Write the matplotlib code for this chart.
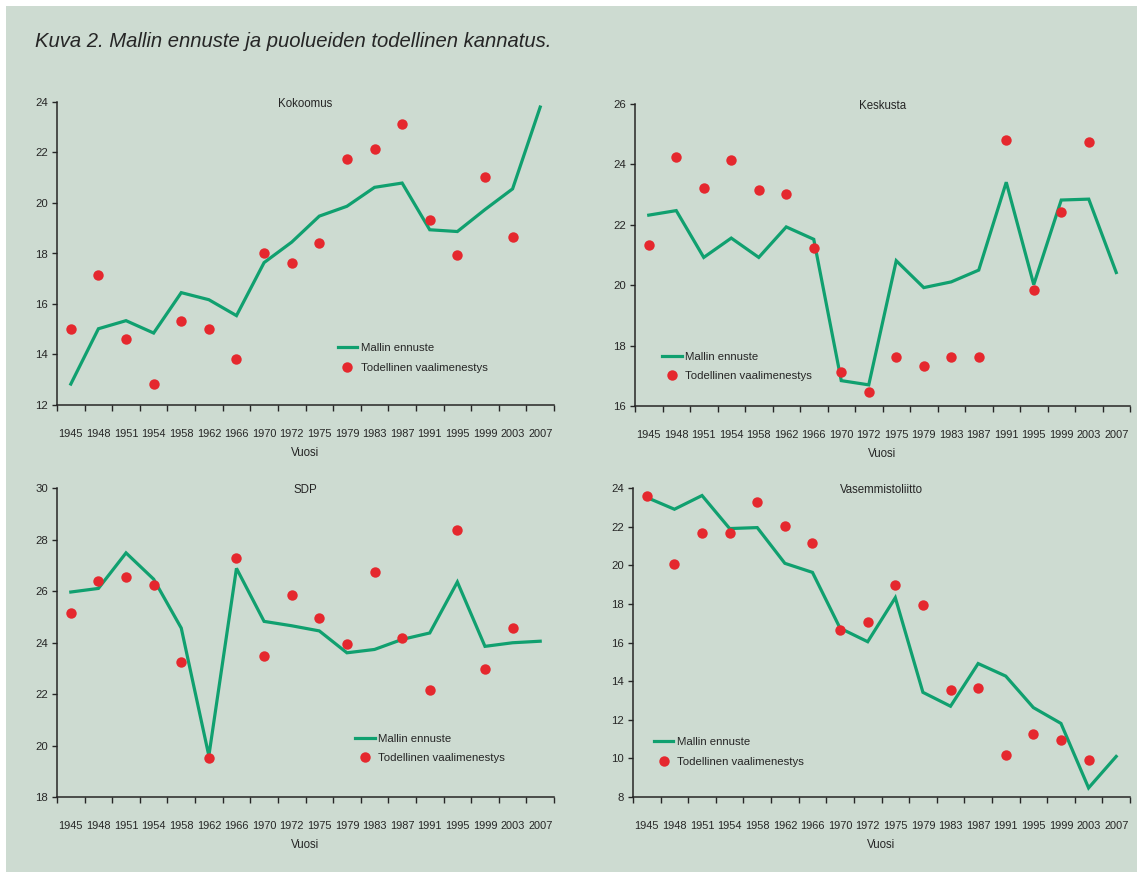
import numpy as np
import matplotlib
matplotlib.use("Agg")
import matplotlib.pyplot as plt
from matplotlib.patches import Rectangle
from matplotlib.lines import Line2D

plt.rcParams['font.family'] = ['Liberation Sans', 'DejaVu Sans']

# vaalivuodet
years = ['1945', '1948', '1951', '1954', '1958', '1962', '1966', '1970', '1972',
         '1975', '1979', '1983', '1987', '1991', '1995', '1999', '2003', '2007']

# Kokoomus
kok_model = [12.83, 15.02, 15.34, 14.85, 16.45, 16.17, 15.54, 17.64, 18.45,
             19.48, 19.87, 20.62, 20.79, 18.94, 18.87, 19.74, 20.56, 23.80]
kok_actual = [15.02, 17.15, 14.62, 12.83, 15.34, 15.02, 13.82, 18.03, 17.64,
              18.41, 21.74, 22.14, 23.12, 19.34, 17.93, 21.04, 18.64]

# Keskusta
kesk_model = [22.32, 22.47, 20.92, 21.56, 20.92, 21.93, 21.52, 16.84, 16.70,
              20.81, 19.92, 20.11, 20.50, 23.41, 20.02, 22.82, 22.85, 20.42]
kesk_actual = [21.34, 24.23, 23.23, 24.14, 23.14, 23.02, 21.22, 17.14, 16.46,
               17.63, 17.34, 17.63, 17.63, 24.82, 19.85, 22.43, 24.73]

# SDP
sdp_model = [25.96, 26.10, 27.48, 26.46, 24.56, 19.60, 26.88, 24.82, 24.65,
             24.45, 23.60, 23.73, 24.12, 24.37, 26.35, 23.85, 23.99, 24.05]
sdp_actual = [25.15, 26.37, 26.56, 26.25, 23.25, 19.52, 27.27, 23.46, 25.86,
              24.94, 23.95, 26.75, 24.16, 22.14, 28.36, 22.96, 24.56]

# Vasemmistoliitto
vas_model = [23.51, 22.90, 23.61, 21.90, 21.95, 20.10, 19.63, 16.74, 16.04,
             18.32, 13.42, 12.70, 14.91, 14.26, 12.63, 11.81, 8.47, 10.10]
vas_actual = [23.56, 20.07, 21.67, 21.67, 23.26, 22.04, 21.15, 16.66, 17.04,
              18.98, 17.95, 13.56, 13.65, 10.17, 11.25, 10.97, 9.94]

BG = '#cddbd1'
GREEN = '#10a06f'
RED = '#e5282e'
INK = '#262626'

W, H = 1137, 872
fig = plt.figure(figsize=(W / 100, H / 100), dpi=100)
fig.patch.set_facecolor('white')
fig.patches.append(Rectangle((6 / W, 0), 1, 1 - 6 / H, transform=fig.transFigure,
                             facecolor=BG, edgecolor='none', zorder=-10))

fig.text(35 / W, 1 - 47 / H, 'Kuva 2. Mallin ennuste ja puolueiden todellinen kannatus.',
         fontsize=14.6, style='italic', color=INK, ha='left', va='baseline')


def px_axes(left, top, right, bottom):
    return fig.add_axes([left / W, 1 - bottom / H, (right - left) / W, (bottom - top) / H])


panels = [
    # nimi, malli, toteutunut, y-rajat, laatikko (px), selitteen paikka
    ('Kokoomus', kok_model, kok_actual, (12, 24), (57, 102, 554, 405), (0.565, 0.205)),
    ('Keskusta', kesk_model, kesk_actual, (16, 26), (635, 104, 1130, 406), (0.055, 0.18)),
    ('SDP', sdp_model, sdp_actual, (18, 30), (57, 488, 554, 797), (0.60, 0.205)),
    ('Vasemmistoliitto', vas_model, vas_actual, (8, 24), (633, 488, 1130, 797), (0.042, 0.193)),
]

x = np.arange(len(years))

for name, model, actual, ylim, box, leg_xy in panels:
    ax = px_axes(*box)
    ax.set_facecolor('none')
    ax.plot(x, model, color=GREEN, lw=2.3, solid_joinstyle='miter', zorder=2)
    ax.plot(x[:len(actual)], actual, 'o', color=RED, ms=7.5, mec='none', zorder=3)

    ax.set_xlim(-0.5, len(years) - 0.5)
    ax.set_ylim(*ylim)
    ax.set_yticks(np.arange(ylim[0], ylim[1] + 1, 2))
    ax.set_xticks(np.arange(-0.5, len(years), 1))
    ax.set_xticklabels([])
    ax.set_xticks(x, minor=True)
    ax.set_xticklabels(years, minor=True)
    ax.tick_params(axis='x', which='major', length=4, width=1, direction='out', color=INK)
    ax.tick_params(axis='x', which='minor', length=0, pad=17, labelsize=7.9, labelcolor=INK)
    ax.tick_params(axis='y', length=3.5, width=1, pad=3, labelsize=8.2, labelcolor=INK,
                   color=INK)
    for s in ['top', 'right']:
        ax.spines[s].set_visible(False)
    for s in ['left', 'bottom']:
        ax.spines[s].set_color(INK)
        ax.spines[s].set_linewidth(1.1)

    ax.text(0.5, 0.995, name, transform=ax.transAxes, ha='center', va='center',
            fontsize=8.3, color=INK)
    ax.set_xlabel('Vuosi', fontsize=8.3, color=INK, labelpad=6)

    handles = [Line2D([], [], color=GREEN, lw=2.3),
               Line2D([], [], ls='none', marker='o', color=RED, ms=7.5, mec='none')]
    ax.legend(handles, ['Mallin ennuste', 'Todellinen vaalimenestys'], loc='upper left',
              bbox_to_anchor=leg_xy, frameon=False, fontsize=8.2, handlelength=1.7,
              handletextpad=0.3, labelspacing=0.85, borderaxespad=0, borderpad=0,
              labelcolor=INK)

fig.savefig('out.png', dpi=100, facecolor=fig.get_facecolor())
